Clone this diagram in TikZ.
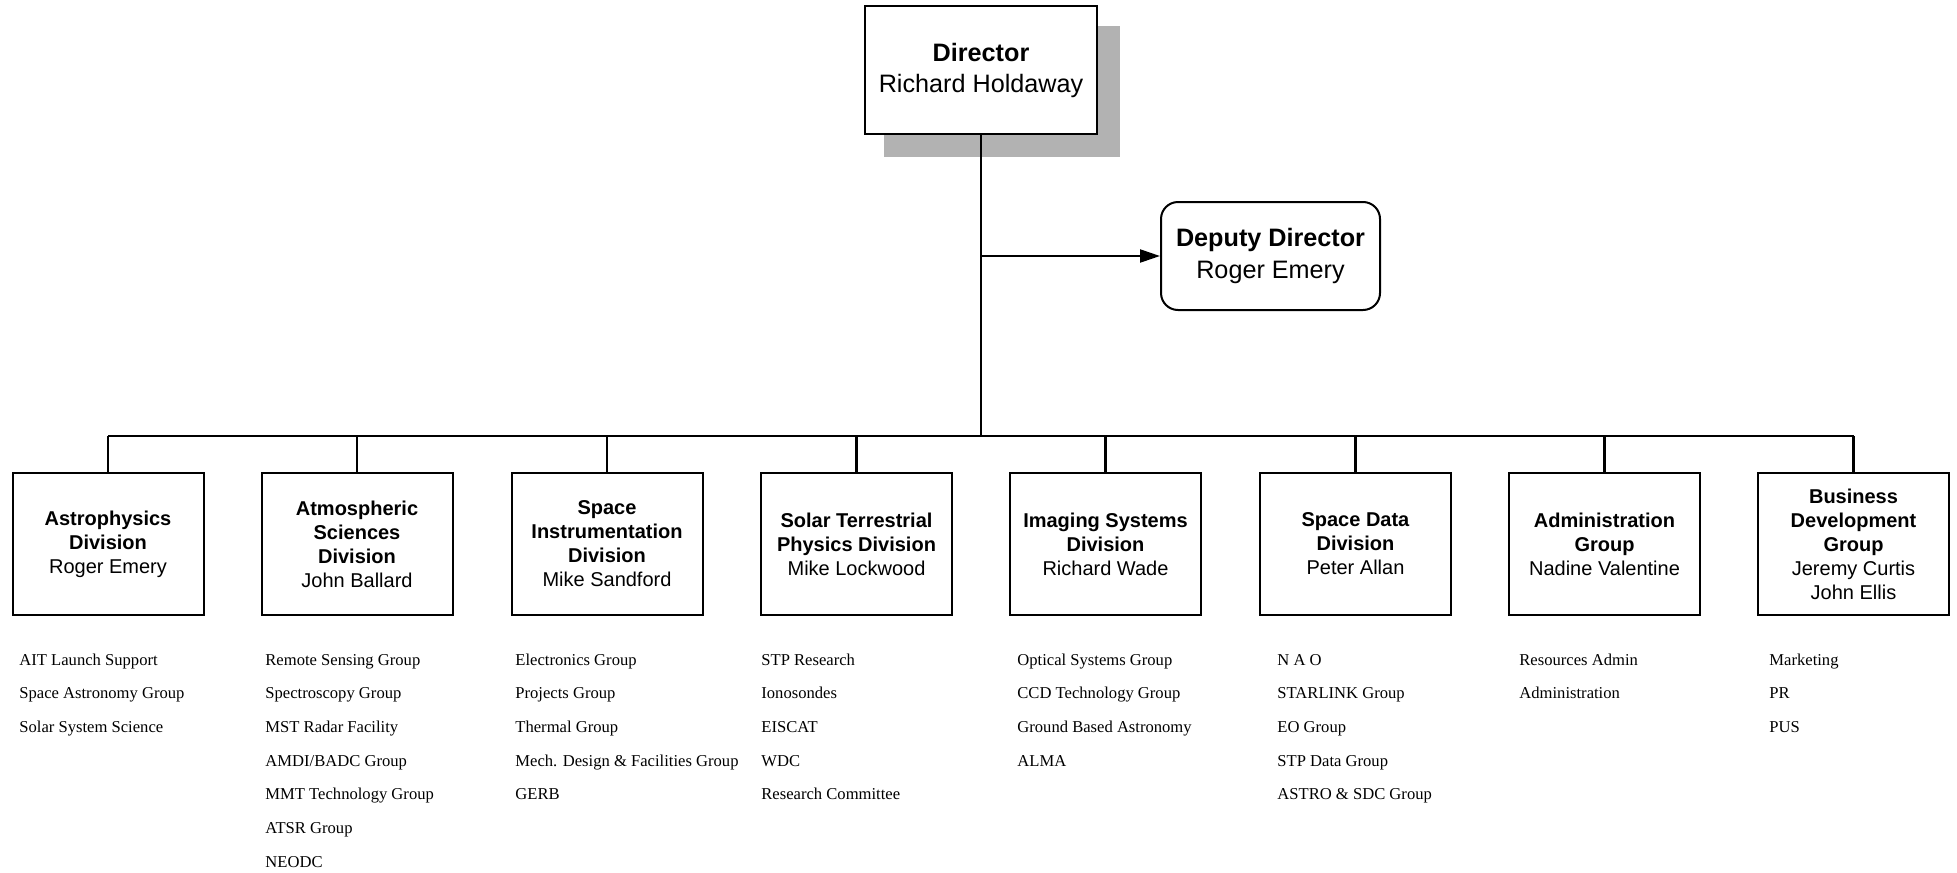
\documentclass[tikz,border=0pt]{standalone}
\usepackage{fontspec}
\setmainfont{Liberation Serif}
\setsansfont{Liberation Sans}
\usetikzlibrary{arrows.meta}

% list of groups under a division: #1 prefix, #2 left x, #3 items
\newcommand\grouplist[3]{%
  \foreach \t [count=\i] in {#3}
    \node[item] (#1-\i) at (#2, {665+33.7*(\i-1)}) {\t};%
}

\begin{document}
\begin{tikzpicture}[x=0.5pt,y=-0.5pt,
  topbox/.style={draw, fill=white, line width=1pt, align=center, inner sep=0pt,
    font=\sffamily\fontsize{12.6}{15.5}\selectfont},
  unitbox/.style={draw, fill=white, line width=1pt, minimum width=95.5pt,
    minimum height=71pt, align=center, inner sep=0pt,
    font=\sffamily\fontsize{10}{12}\selectfont},
  item/.style={anchor=base west, inner sep=0pt, font=\fontsize{8.3}{10}\selectfont},
  link/.style={line width=1.1pt},
  trunk/.style={line width=1.4pt}
]
\useasboundingbox (0,0) rectangle (1957,872);

% director with drop shadow
\fill[gray!60] (884,26) rectangle (1120,157);
\node[topbox, minimum width=116pt, minimum height=64pt] (dir) at (981,70)
  {\textbf{Director}\\Richard Holdaway};

% deputy director
\node[topbox, rounded corners=8.5pt, minimum width=109.5pt, minimum height=54pt,
  font=\sffamily\fontsize{12.6}{16}\selectfont] (dep) at (1270.5,256)
  {\textbf{Deputy Director}\\Roger Emery};

% divisions
\node[unitbox] (d1) at (108,544)    {\textbf{Astrophysics}\\\textbf{Division}\\Roger Emery};
\node[unitbox] (d2) at (357,544)    {\textbf{Atmospheric}\\\textbf{Sciences}\\\textbf{Division}\\John Ballard};
\node[unitbox] (d3) at (607,544)    {\textbf{Space}\\\textbf{Instrumentation}\\\textbf{Division}\\Mike Sandford};
\node[unitbox] (d4) at (856.5,544)  {\textbf{Solar Terrestrial}\\\textbf{Physics Division}\\Mike Lockwood};
\node[unitbox] (d5) at (1105.5,544) {\textbf{Imaging Systems}\\\textbf{Division}\\Richard Wade};
\node[unitbox] (d6) at (1355.5,544) {\textbf{Space Data}\\\textbf{Division}\\Peter Allan};
\node[unitbox] (d7) at (1604.5,544) {\textbf{Administration}\\\textbf{Group}\\Nadine Valentine};
\node[unitbox] (d8) at (1853.5,544) {\textbf{Business}\\\textbf{Development}\\\textbf{Group}\\Jeremy Curtis\\John Ellis};

% connectors
\coordinate (j) at (dir.south |- dep.west);
\coordinate (busL) at (d1.north |- 0,436);
\coordinate (busR) at (d8.north |- 0,436);
\coordinate (busM) at (dir.south |- 0,436);
\draw[trunk] (dir.south) -- (busM);
\draw[link, -{Triangle[length=10pt,width=6.5pt]}] (j) -- (dep.west);
\draw[link] (busL) -- (busR);
\foreach \k in {1,...,8}
  \draw[link] (d\k.north |- busM) -- (d\k.north);

% groups under each division
\grouplist{g1}{19}{AIT Launch Support, Space Astronomy Group, Solar System Science}
\grouplist{g2}{265}{Remote Sensing Group, Spectroscopy Group, MST Radar Facility,
  AMDI/BADC Group, MMT Technology Group, ATSR Group, NEODC}
\grouplist{g3}{515}{Electronics Group, Projects Group, Thermal Group,
  Mech. Design \& Facilities Group, GERB}
\grouplist{g4}{761}{STP Research, Ionosondes, EISCAT, WDC, Research Committee}
\grouplist{g5}{1017}{Optical Systems Group, CCD Technology Group,
  Ground Based Astronomy, ALMA}
\grouplist{g6}{1277}{N A O, STARLINK Group, EO Group, STP Data Group,
  ASTRO \& SDC Group}
\grouplist{g7}{1519}{Resources Admin, Administration}
\grouplist{g8}{1769}{Marketing, PR, PUS}
\end{tikzpicture}
\end{document}
